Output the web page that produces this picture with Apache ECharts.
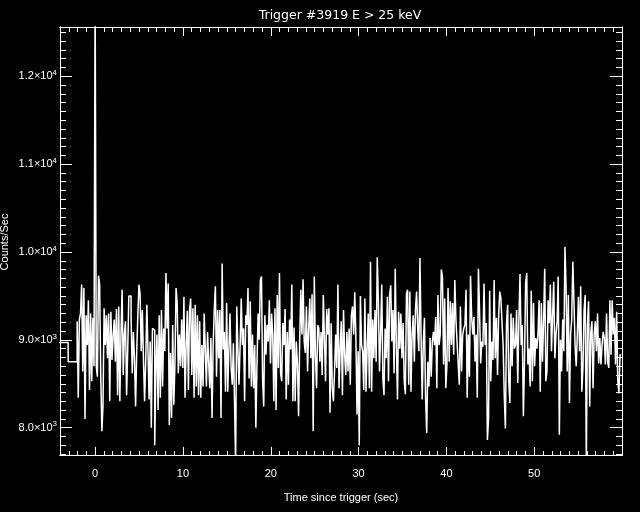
<!DOCTYPE html>
<html>
<head>
<meta charset="utf-8">
<script src="https://cdn.jsdelivr.net/npm/echarts@6/dist/echarts.min.js"></script>
<style>
html,body{margin:0;padding:0;background:#000;}
#chart{width:640px;height:512px;}
</style>
</head>
<body>
<div id="chart"></div>
<script>
// ---- data ----
const titleText = 'Trigger #3919 E > 25 keV';
const xTitle = 'Time since trigger (sec)';
const yTitle = 'Counts/Sec';
// pre-trigger 1.024 s bins (start times, counts/s)
const preStart = [-4.096, -3.072];
const preCounts = [8970, 8750];
// post -2.048 s: 0.128 s bins
const binStart = -2.048;
const binWidth = 0.128;
const counts = [
9210,8340,9230,9300,9630,8640,9590,8100,9280,8940,9450,8430,9300,8530,9250,8700,13000,8700,8580,9730,
9630,8600,7960,8250,9360,8940,9280,8790,9300,8300,9320,8770,9040,9230,8750,9350,8370,9380,8300,9060,
9570,8600,9060,9210,8370,8890,9500,9500,9250,8620,9090,8790,8240,8870,9280,9630,9520,8870,9340,8790,
8300,8750,9400,8890,8320,8980,8000,9130,9110,7800,8640,9060,8200,9280,8340,9340,8470,9130,8870,9760,
9130,9640,8030,8850,8110,9170,8260,8720,9590,9420,8620,9060,8700,9230,8680,9490,8340,8940,9330,8430,
9340,9470,8600,9360,8340,9400,8470,9280,8370,9210,8340,8940,8470,9300,8900,8470,9090,8750,8450,9020,
8110,8940,9340,9610,8580,9340,8790,9340,8110,9870,8890,9090,8410,9420,8410,8900,9300,8680,8490,8960,
8300,7600,9380,8900,8490,8940,9470,8940,9130,8300,9280,9170,9590,8560,9440,8470,9060,8450,8940,8000,
8720,9300,9000,9680,9720,8560,8240,9280,8830,9170,8980,9450,8730,9300,9060,8300,9360,8200,9510,8680,
9760,8620,8530,9190,8940,9350,8320,9090,8490,9230,8890,9630,8300,9140,8300,8980,8720,8130,9000,9570,
9060,9690,8980,8850,9380,8640,9130,9470,8790,9520,7960,9720,8830,8450,9170,9130,8750,9090,8600,9510,
9020,8530,9350,9060,9360,8170,9190,8450,8300,8640,9060,8680,9630,8450,8890,9210,8370,9340,8830,8600,
9090,8640,9130,8490,9280,9380,9060,9540,9020,8150,8870,7800,9500,8940,8870,8430,9470,8410,8900,9300,
8450,9890,8410,9230,8790,9340,8750,9940,9440,8640,9060,9630,8560,8370,9130,8790,9490,8530,9510,9620,
8980,9340,8620,9810,8940,8320,9320,8900,9300,8790,9190,8530,8380,9530,9570,8490,9550,8410,9060,9280,
8750,9340,9550,9130,8870,9930,9020,8320,8980,9250,8340,7940,8750,8470,9020,8580,8980,9090,8940,9260,
8450,9510,8940,9060,9800,9720,8720,9470,8450,8720,9590,8750,9440,8940,9420,8830,9680,9230,8980,8720,
8490,9380,8640,9060,9130,9170,9570,8340,9060,8580,9730,9260,9060,9260,8750,9060,8340,9810,9340,8730,
8980,8920,9640,8940,9190,7860,8090,9560,8530,8980,8770,9680,8790,9250,8600,9280,9550,9470,9190,8940,
8370,7990,9190,9400,8530,8280,9300,8700,9250,8900,8940,9340,8510,9210,9750,8940,9170,8130,8750,9640,
9760,8720,8900,8470,9560,8530,9420,8700,9020,8900,9060,9450,8410,9420,8750,9210,9810,8530,8640,9450,
9190,9630,8870,9280,9660,8790,9060,9210,9720,7920,9000,8640,9230,8870,10060,9590,8640,9510,8280,9060,
9230,9890,9440,8940,8700,9060,9490,8870,9610,8410,8680,9340,9510,7600,9170,9440,8240,9090,9210,8450,
9060,9210,8870,9300,8730,9020,8720,8940,9090,9020,8720,9300,8750,8680,9450,8830,9450,9060,9250,8720,
9320,8530,8390,8830
];
// axes
const xMin = -4, xMax = 60;
const yMin = 7689, yMax = 12561;
const xMajorTicks = [0, 10, 20, 30, 40, 50];
const yMajorTicks = [8000, 9000, 10000, 11000, 12000];

// ---- build ----
const xMinorTicks = [];
for (let v = xMin; v <= xMax; v += 1) xMinorTicks.push(v);
const yMinorTicks = [];
for (let v = 7700; v <= 12500; v += 100) yMinorTicks.push(v);

const data = [];
preStart.forEach((t, i) => data.push([t, preCounts[i]]));
counts.forEach((c, i) => data.push([+(binStart + i * binWidth).toFixed(3), c]));
data.push([+(binStart + counts.length * binWidth).toFixed(3), counts[counts.length - 1]]);

const FONT = 'Liberation Sans';
const W = '#ffffff';
const gridRect = {left: 60, top: 27, width: 562, height: 428, containLabel: false, outerBoundsMode: 'none'};
const line = {show: true, onZero: false, lineStyle: {color: W, width: 1}};

function supLabel(v) {
  const e = Math.floor(Math.log10(v) + 1e-9);
  const m = v / Math.pow(10, e);
  return '{m|' + m.toFixed(1) + '×10}{e|' + e + '}';
}

function xAx(grid, pos, ticks, len, labels) {
  return {
    type: 'value', gridIndex: grid, position: pos, min: xMin, max: xMax,
    axisLine: line,
    axisTick: {show: true, inside: true, length: len, customValues: ticks, lineStyle: {color: W, width: 1}},
    axisLabel: labels ? {show: true, customValues: ticks, color: W, fontFamily: FONT, fontSize: 11, margin: 13} : {show: false},
    splitLine: {show: false}
  };
}
function yAx(grid, pos, ticks, len, labels) {
  return {
    type: 'value', gridIndex: grid, position: pos, min: yMin, max: yMax,
    axisLine: line,
    axisTick: {show: true, inside: true, length: len, customValues: ticks, lineStyle: {color: W, width: 1}},
    axisLabel: labels ? {
      show: true, customValues: ticks, margin: 3, formatter: supLabel,
      rich: {
        m: {color: W, fontFamily: FONT, fontSize: 11},
        e: {color: W, fontFamily: FONT, fontSize: 8, padding: [0, 0, 7, 0]}
      }
    } : {show: false},
    splitLine: {show: false}
  };
}

const xAxes = [
  xAx(1, 'bottom', xMajorTicks, 8, true),
  xAx(1, 'top', xMajorTicks, 9, false),
  xAx(0, 'bottom', xMinorTicks, 4, false),
  xAx(0, 'top', xMinorTicks, 5, false)
];
xAxes[0].name = xTitle;
xAxes[0].nameLocation = 'middle';
xAxes[0].nameGap = 37;
xAxes[0].nameTextStyle = {color: W, fontFamily: FONT, fontSize: 11};

const yAxes = [
  yAx(1, 'left', yMajorTicks, 12, true),
  yAx(1, 'right', yMajorTicks, 12, false),
  yAx(0, 'left', yMinorTicks, 6, false),
  yAx(0, 'right', yMinorTicks, 6, false)
];

const chart = echarts.init(document.getElementById('chart'), null, {renderer: 'canvas'});
chart.setOption({
  backgroundColor: '#000000',
  animation: false,
  grid: [Object.assign({}, gridRect), Object.assign({}, gridRect)],
  xAxis: xAxes,
  yAxis: yAxes,
  graphic: [{
    type: 'text', x: 340, y: 16, silent: true,
    style: {text: titleText, fill: W, font: '12.5px "DejaVu Sans"', align: 'center', verticalAlign: 'middle'}
  }, {
    type: 'text', x: 5, y: 242, rotation: Math.PI / 2, silent: true,
    style: {text: yTitle, fill: W, font: '11px "' + FONT + '"', align: 'center', verticalAlign: 'middle'}
  }],
  series: [{
    type: 'line', xAxisIndex: 0, yAxisIndex: 0, step: 'end', showSymbol: false, symbol: 'none',
    clip: true, data: data,
    lineStyle: {color: W, width: 1.5}
  }]
});
</script>
</body>
</html>
